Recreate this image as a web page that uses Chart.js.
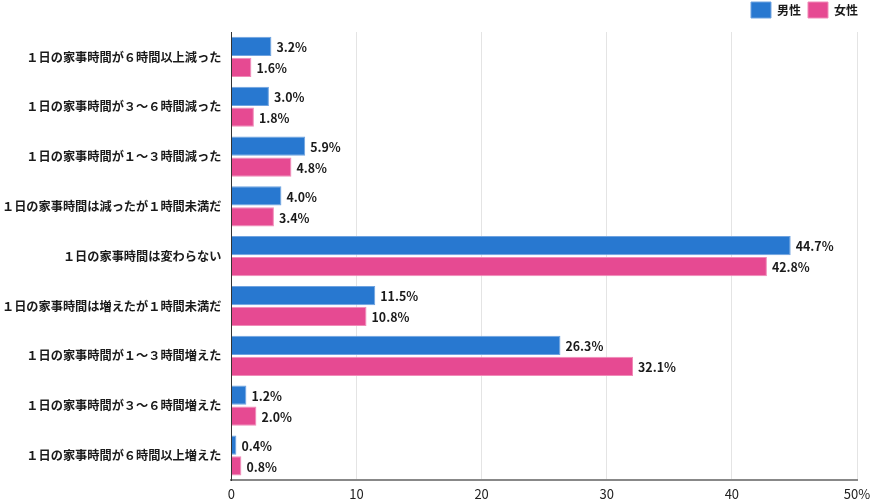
<!DOCTYPE html>
<html lang="ja">
<head>
<meta charset="UTF-8">
<title>家事時間の変化</title>
<script src="https://cdn.jsdelivr.net/npm/chart.js"></script>
<style>
  html, body { margin: 0; padding: 0; background: #fff; }
  #wrap { width: 870px; height: 502px; position: relative; }
</style>
</head>
<body>
<div id="wrap"><canvas id="chart"></canvas></div>
<script>
const categories = [
  '１日の家事時間が６時間以上減った',
  '１日の家事時間が３～６時間減った',
  '１日の家事時間が１～３時間減った',
  '１日の家事時間は減ったが１時間未満だ',
  '１日の家事時間は変わらない',
  '１日の家事時間は増えたが１時間未満だ',
  '１日の家事時間が１～３時間増えた',
  '１日の家事時間が３～６時間増えた',
  '１日の家事時間が６時間以上増えた'
];
const maleValues = [3.2, 3.0, 5.9, 4.0, 44.7, 11.5, 26.3, 1.2, 0.4];
const femaleValues = [1.6, 1.8, 4.8, 3.4, 42.8, 10.8, 32.1, 2.0, 0.8];

const FONT = '"Noto Sans CJK JP", "Noto Sans", sans-serif';

// 値ラベルを棒の右に描く
const valueLabels = {
  id: 'valueLabels',
  afterDatasetsDraw(chart) {
    const ctx = chart.ctx;
    ctx.save();
    ctx.font = 'bold 12.4px ' + FONT;
    ctx.fillStyle = '#1a1a1a';
    ctx.textBaseline = 'middle';
    ctx.textAlign = 'left';
    chart.data.datasets.forEach((ds, i) => {
      chart.getDatasetMeta(i).data.forEach((bar, j) => {
        ctx.fillText(ds.data[j].toFixed(1) + '%', bar.x + 5, bar.y + 1);
      });
    });
    ctx.restore();
  }
};

// 凡例の下に少し余白をとる
const legendGap = {
  id: 'legendGap',
  beforeInit(chart) {
    const fit = chart.legend.fit;
    chart.legend.fit = function () {
      fit.call(this);
      this.height += 4;
    };
  }
};

new Chart(document.getElementById('chart'), {
  type: 'bar',
  data: {
    labels: categories,
    datasets: [
      {
        label: '男性',
        data: maleValues,
        backgroundColor: '#2878d0',
        borderColor: '#6fa3e0',
        borderWidth: 1,
        barPercentage: 0.92,
        categoryPercentage: 0.84
      },
      {
        label: '女性',
        data: femaleValues,
        backgroundColor: '#e64a92',
        borderColor: '#f08bb8',
        borderWidth: 1,
        barPercentage: 0.92,
        categoryPercentage: 0.84
      }
    ]
  },
  options: {
    indexAxis: 'y',
    responsive: true,
    maintainAspectRatio: false,
    animation: false,
    layout: { padding: { top: -5, right: 5, bottom: -6, left: -8 } },
    scales: {
      x: {
        min: 0,
        max: 50,
        afterFit(scale) { scale.paddingRight = 13; },
        ticks: {
          stepSize: 10,
          color: '#222',
          padding: 6,
          font: { family: FONT, size: 13 },
          callback: v => v === 50 ? '50%' : v
        },
        grid: { color: '#e4e4e4', drawTicks: false },
        border: { color: '#888', width: 2 }
      },
      y: {
        ticks: {
          color: '#1a1a1a',
          padding: 10,
          font: { family: FONT, size: 12.2, weight: 'bold' }
        },
        grid: { display: false, drawTicks: false },
        border: { color: '#333', width: 1 }
      }
    },
    plugins: {
      legend: {
        position: 'top',
        align: 'end',
        labels: {
          boxWidth: 20,
          boxHeight: 16,
          color: '#1a1a1a',
          padding: 7,
          font: { family: FONT, size: 12, weight: 'bold' }
        }
      },
      tooltip: { enabled: false }
    }
  },
  plugins: [valueLabels, legendGap]
});
</script>
</body>
</html>
